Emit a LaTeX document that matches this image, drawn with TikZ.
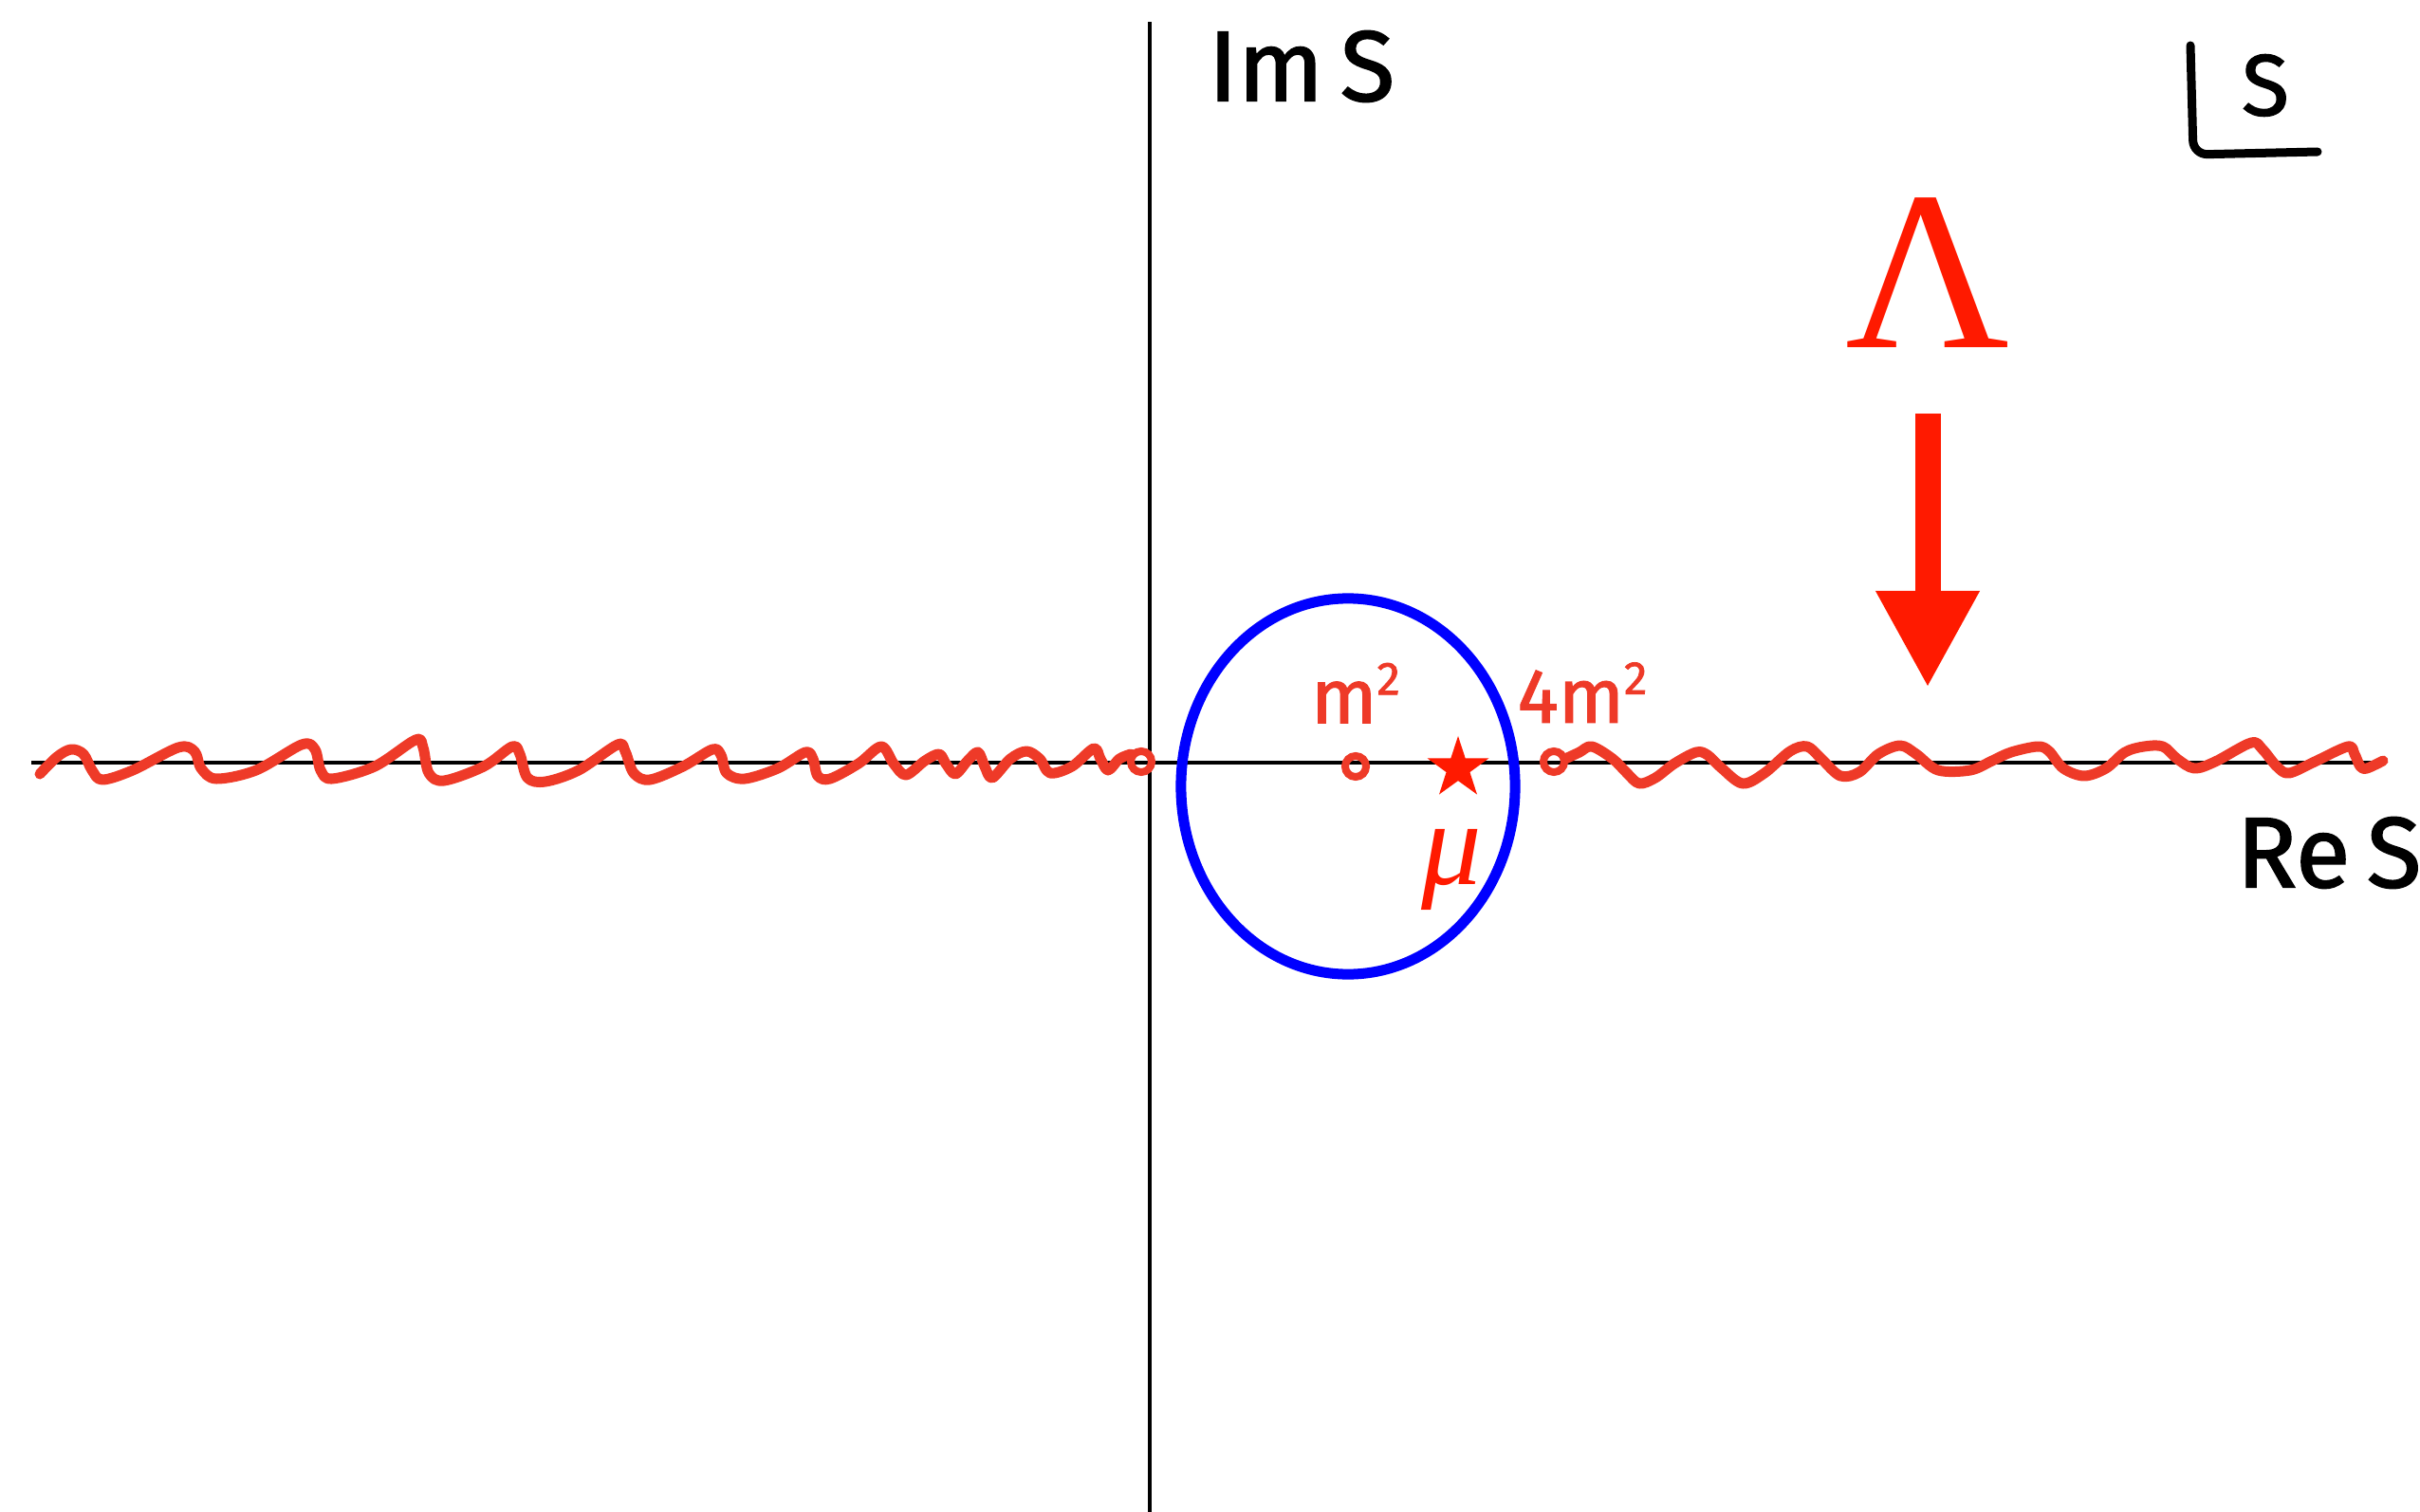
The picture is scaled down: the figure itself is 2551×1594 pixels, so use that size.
\documentclass[tikz,border=0pt]{standalone}
\usepackage{fontspec}
\setmainfont{Liberation Serif}
\newfontfamily\handfont{Fira Sans}[FakeBold=1.5]
\usepackage{xcolor}
\usetikzlibrary{arrows.meta,positioning,shapes.geometric}
\definecolor{cutred}{RGB}{238,58,40}
\definecolor{hotred}{RGB}{255,26,0}
\newcommand{\sqr}{\raisebox{0.37em}{\fontsize{14}{16}\selectfont 2}}

\begin{document}
\begin{tikzpicture}[x=0.01cm,y=-0.01cm,
    axis/.style={line width=0.045cm},
    cut/.style={cutred,line width=0.11cm,line cap=round,line join=round},
    pt/.style={circle,draw=cutred,line width=0.08cm,minimum size=0.22cm,inner sep=0pt},
    hand/.style={font=\handfont\fontsize{30}{36}\selectfont,inner sep=0pt},
    lbl/.style={text=cutred,font=\handfont\fontsize{23}{26}\selectfont,inner sep=0pt}
]
\useasboundingbox (0,0) rectangle (2551,1594);
% axes
\coordinate (imtop) at (1212,23);
\coordinate (imbot) at (1212,1594);
\coordinate (releft) at (33,804);
\coordinate (reright) at (2512,804);
\draw[axis] (imbot) -- (imtop);
\draw[axis] (releft) -- (reright);
\node[hand] (imlbl) at (1372,70) {Im\,S};
\node[hand] (relbl) at (2455,899) {Re\,S};
% s-plane tag
\node[hand,font=\handfont\fontsize{26}{30}\selectfont] (plane) at (2388,90) {S};
\draw[line width=0.09cm,line cap=round,rounded corners=0.15cm] (2309,48) -- (2312,163) -- (2443,160);
% branch points and pole
\node[pt] (branchpt) at (1203,803) {};
\node[pt] (m2pt) at (1429,808) {};
\node[pt] (fourpt) at (1638,803) {};
\node[star,star points=5,star point ratio=2.6,fill=hotred,inner sep=0pt,minimum size=0.68cm] (mupt) at (1537,810) {};
\node[lbl,above=0.3cm of m2pt] (m2lbl) {m\sqr};
\node[lbl] (fourlbl) at (1668,730) {4m\sqr};
\node[text=hotred,font=\fontsize{36}{40}\selectfont\itshape,inner sep=0pt] (mulbl) at (1530,917) {μ};
% contour
\node[ellipse,draw=blue,line width=0.11cm,minimum width=3.52cm,minimum height=3.96cm,inner sep=0pt] (contour) at (1421,829) {};
% cuts
\draw[cut] plot[smooth,tension=0.55] coordinates {(42,816) (60,798) (75,790) (88,795) (97,812) (108,822) (140,812) (188,788) (205,792) (212,810) (228,821) (270,812) (318,785) (332,790) (338,812) (350,821) (395,808) (438,780) (446,788) (452,815) (468,823) (510,808) (540,787) (548,795) (556,820) (575,824) (610,812) (651,785) (659,792) (668,815) (685,822) (720,808) (751,790) (760,796) (766,815) (785,821) (820,810) (849,793) (857,800) (862,818) (875,821) (905,805) (929,787) (942,805) (955,817) (975,802) (990,795) (997,805) (1007,816) (1020,802) (1031,793) (1038,808) (1046,820) (1065,800) (1082,792) (1096,800) (1107,815) (1130,808) (1153,789) (1160,800) (1168,812) (1180,800) (1192,795)};
\draw[cut] plot[smooth,tension=0.55] coordinates {(1650,800) (1665,793) (1678,787) (1700,800) (1715,815) (1728,826) (1745,820) (1765,805) (1788,793) (1800,796) (1815,810) (1837,826) (1860,815) (1887,792) (1905,787) (1920,800) (1940,818) (1960,814) (1980,795) (2003,786) (2020,795) (2043,812) (2077,812) (2100,802) (2120,793) (2148,787) (2160,792) (2175,810) (2197,818) (2220,810) (2240,793) (2260,787) (2280,787) (2295,800) (2313,810) (2335,803) (2373,783) (2385,790) (2400,808) (2413,815) (2440,803) (2475,787) (2482,795) (2488,808) (2495,810) (2512,802)};
% cutoff arrow
\coordinate (arrowtop) at (2032,436);
\coordinate (arrowtip) at (2032,725);
\node[text=hotred,font=\fontsize{68}{76}\selectfont,inner sep=0pt,above=0.69cm of arrowtop] (lam) {Λ};
\draw[hotred,line width=0.27cm,-{Triangle[width=1.02cm,length=1.02cm]}] (arrowtop) -- (arrowtip);
\end{tikzpicture}
\end{document}
